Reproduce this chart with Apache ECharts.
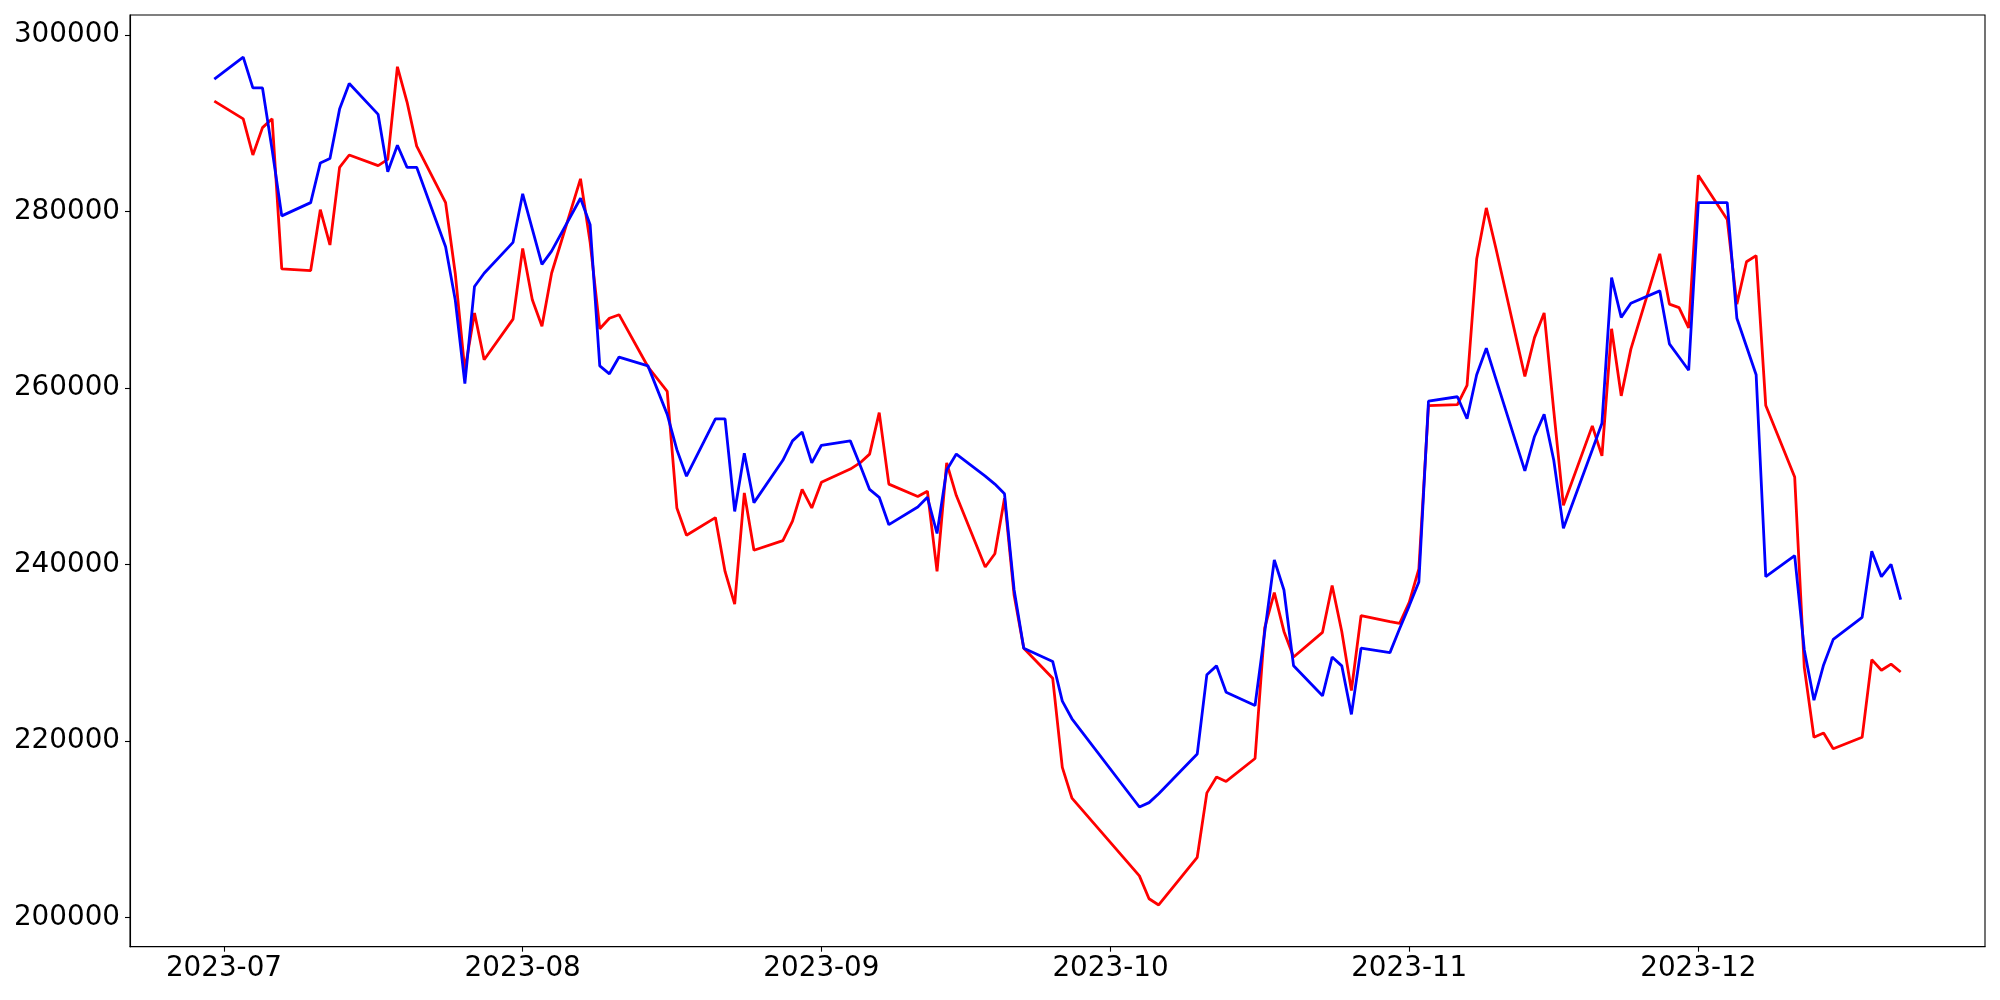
<!DOCTYPE html>
<html>
<head>
<meta charset="utf-8">
<script src="https://cdn.jsdelivr.net/npm/echarts@6/dist/echarts.min.js"></script>
<style>
html,body{margin:0;padding:0;background:#fff;}
#chart{width:2000px;height:1000px;}
</style>
</head>
<body>
<div id="chart"></div>
<script>
const dates = [
'2023-06-30','2023-07-03','2023-07-04','2023-07-05','2023-07-06','2023-07-07',
'2023-07-10','2023-07-11','2023-07-12','2023-07-13','2023-07-14',
'2023-07-17','2023-07-18','2023-07-19','2023-07-20','2023-07-21',
'2023-07-24','2023-07-25','2023-07-26','2023-07-27','2023-07-28',
'2023-07-31','2023-08-01','2023-08-02','2023-08-03','2023-08-04',
'2023-08-07','2023-08-08','2023-08-09','2023-08-10','2023-08-11',
'2023-08-14','2023-08-16','2023-08-17','2023-08-18',
'2023-08-21','2023-08-22','2023-08-23','2023-08-24','2023-08-25',
'2023-08-28','2023-08-29','2023-08-30','2023-08-31','2023-09-01',
'2023-09-04','2023-09-05','2023-09-06','2023-09-07','2023-09-08',
'2023-09-11','2023-09-12','2023-09-13','2023-09-14','2023-09-15',
'2023-09-18','2023-09-19','2023-09-20','2023-09-21','2023-09-22',
'2023-09-25','2023-09-26','2023-09-27',
'2023-10-04','2023-10-05','2023-10-06',
'2023-10-10','2023-10-11','2023-10-12','2023-10-13',
'2023-10-16','2023-10-17','2023-10-18','2023-10-19','2023-10-20',
'2023-10-23','2023-10-24','2023-10-25','2023-10-26','2023-10-27',
'2023-10-30','2023-10-31','2023-11-01','2023-11-02','2023-11-03',
'2023-11-06','2023-11-07','2023-11-08','2023-11-09','2023-11-10',
'2023-11-13','2023-11-14','2023-11-15','2023-11-16','2023-11-17',
'2023-11-20','2023-11-21','2023-11-22','2023-11-23','2023-11-24',
'2023-11-27','2023-11-28','2023-11-29','2023-11-30','2023-12-01',
'2023-12-04','2023-12-05','2023-12-06','2023-12-07','2023-12-08',
'2023-12-11','2023-12-12','2023-12-13','2023-12-14','2023-12-15',
'2023-12-18','2023-12-19','2023-12-20','2023-12-21','2023-12-22'
];

const redValues = [
292500,290500,286400,289500,290500,273500,
273300,280200,276200,285000,286400,
285200,285900,296400,292400,287400,
281000,273000,262000,268500,263200,
267800,275800,270000,267000,273000,
283700,276500,266700,267900,268300,
262400,259600,246400,243300,
245300,239200,235500,248100,241600,
242700,244900,248500,246400,249300,
250800,251500,252500,257200,249100,
247700,248300,239200,251500,247800,
239700,241200,247500,236500,230500,
227100,217000,213500,
204700,202100,201400,
206800,214100,215900,215400,
218000,232800,236800,232400,229500,
232300,237600,232400,225700,234200,
233500,233300,235700,239500,258000,
258100,260300,274600,280400,275800,
261300,265700,268500,257400,246700,
255700,252300,266700,259100,264400,
275200,269500,269100,266800,284100,
279100,269500,274300,275000,258000,
249900,228300,220400,220900,219100,
220400,229200,228000,228700,227800
];

const blueValues = [
295000,297500,294000,294000,287000,279500,
281000,285500,286000,291600,294500,
291000,284500,287500,285000,285000,
276000,270000,260500,271500,273000,
276500,282000,278000,274000,275500,
281500,278500,262500,261600,263500,
262500,257000,253000,250000,
256500,256500,246000,252600,247000,
251800,254000,255000,251500,253500,
254000,251300,248500,247600,244500,
246500,247600,243500,250700,252500,
250000,249100,248000,237100,230500,
229000,224500,222500,
212500,213000,214000,
218500,227500,228500,225500,
224000,232300,240500,237100,228500,
225100,229500,228500,223000,230500,
230000,232700,235300,238000,258500,
259000,256500,261500,264500,261000,
250600,254500,257000,251800,244100,
253000,256000,272500,268000,269600,
271000,265000,263500,262000,281000,
281000,267900,264700,261500,238600,
241000,230300,224600,228600,231500,
234000,241500,238600,240000,236000
];

const yTickValues = [200000,220000,240000,260000,280000,300000];
const xTickDates = ['2023-07-01','2023-08-01','2023-09-01','2023-10-01','2023-11-01','2023-12-01'];

function toTs(s){const p=s.split('-').map(Number);return Date.UTC(p[0],p[1]-1,p[2]);}
const DAY = 86400000;
const xMin = toTs(dates[0]) - 8.75*DAY;
const xMax = toTs(dates[dates.length-1]) + 8.75*DAY;
const xTicks = xTickDates.map(toTs);

const redData = dates.map((d,i)=>[toTs(d), redValues[i]]);
const blueData = dates.map((d,i)=>[toTs(d), blueValues[i]]);

const FONT = 'DejaVu Sans';
const chart = echarts.init(document.getElementById('chart'), null, {renderer:'canvas'});
chart.setOption({
  animation: false,
  backgroundColor: '#ffffff',
  grid: {
    left: 130, right: 15, top: 15, bottom: 53.3,
    show: true, borderColor: '#000', borderWidth: 1.1,
    containLabel: false, outerBoundsMode: 'none'
  },
  xAxis: {
    type: 'value',
    min: xMin, max: xMax,
    splitLine: {show: false},
    axisLine: {show: true, onZero: false, lineStyle: {color: '#000', width: 1.1}},
    axisTick: {show: true, length: 5, lineStyle: {color: '#000', width: 1.1}, customValues: xTicks},
    axisLabel: {
      customValues: xTicks,
      color: '#000', fontFamily: FONT, fontSize: 27.8, margin: 8, hideOverlap: false,
      formatter: function(v){const d=new Date(v);return d.getUTCFullYear()+'-'+String(d.getUTCMonth()+1).padStart(2,'0');}
    }
  },
  yAxis: {
    type: 'value',
    min: 196668, max: 302267,
    splitLine: {show: false},
    axisLine: {show: true, onZero: false, lineStyle: {color: '#000', width: 1.1}},
    axisTick: {show: true, length: 5, lineStyle: {color: '#000', width: 1.1}, customValues: yTickValues},
    axisLabel: {
      customValues: yTickValues,
      color: '#000', fontFamily: FONT, fontSize: 27.8, margin: 10,
      formatter: function(v){return String(v);}
    }
  },
  series: [
    {type: 'line', data: redData, symbol: 'none', lineStyle: {color: '#ff0000', width: 2.8}, itemStyle:{color:'#ff0000'}, z: 2},
    {type: 'line', data: blueData, symbol: 'none', lineStyle: {color: '#0000ff', width: 2.8}, itemStyle:{color:'#0000ff'}, z: 3}
  ]
});
</script>
</body>
</html>
